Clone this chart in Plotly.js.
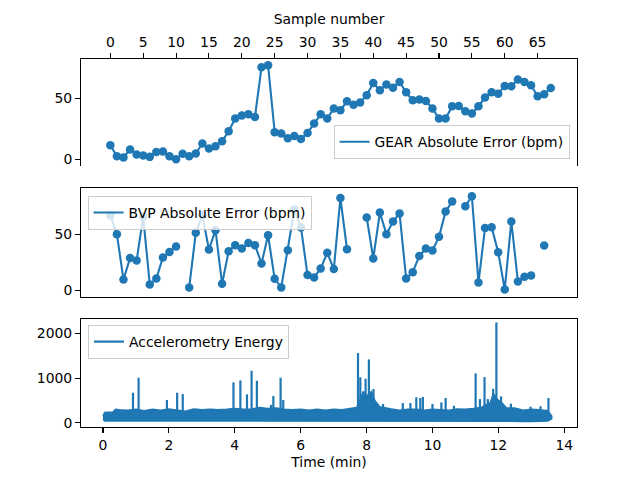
<!DOCTYPE html>
<html>
<head>
<meta charset="utf-8">
<script src="https://cdn.plot.ly/plotly-3.0.1.min.js"></script>
<style>
  html, body { margin: 0; padding: 0; background: #fff; }
  #chart { width: 640px; height: 480px; }
</style>
</head>
<body>
<div id="chart"></div>
<script>
// GEAR error, one value per sample (0..67)
const gearErr = [
  11.5, 2.5, 1.4, 8, 3.9, 3, 1.9, 6, 6.3, 2.5,
  0, 4.4, 2.5, 4.7, 13, 8.8, 10.7, 14.8, 23, 33.5,
  36, 37, 34.9, 75.8, 77.5, 22.3, 21.2, 17.3, 19.2, 16.7,
  21.7, 29.4, 37, 33.5, 41.8, 40.4, 47.8, 45, 46.7, 52.8,
  62.9, 56.9, 61.6, 59, 63.7, 55.2, 48.6, 49.2, 48.1, 41.8,
  33.5, 33.5, 43.7, 43.9, 39.6, 37.7, 43.7, 50.9, 55.2, 54.1,
  60.4, 60.2, 65.7, 63.7, 61, 51.9, 53.6, 58.8
];

// BVP error, null where the sample has no estimate
const bvpErr = [
  67, 50, 9.5, 28.6, 26.5, 65.5, 5, 10.4, 29.2, 34,
  39, null, 2.4, 51.2, 67, 36.3, 53.6, 5.7, 34.8, 40.2,
  37.2, 42, 40.2, 23.8, 49, 10.1, 2.4, 35.7, 72, 56,
  13.4, 11.3, 19.3, 33.3, 18.8, 82.3, 36.6, null, null, 64.9,
  28.3, 69.3, 50, 61.3, 68.5, 10.4, 16, 30.4, 37.2, 35.4,
  47.6, 70.2, 79.2, null, 75, 83.9, 6.8, 55.4, 56.2, 33.9,
  0.6, 61.3, 7.7, 11.9, 13.1, null, 39.9, null
];

const sampleNo = gearErr.map((_, i) => i);
const sampleTicks = [0, 5, 10, 15, 20, 25, 30, 35, 40, 45, 50, 55, 60, 65];

// accelerometry energy: band envelope (min) and spikes
const bandTime  = [0.00, 0.05, 0.30, 0.38, 0.50, 0.75, 1.00, 1.25, 1.50, 1.75,
                   2.00, 2.25, 2.50, 2.75, 3.00, 3.25, 3.50, 3.75, 4.00, 4.25,
                   4.50, 4.75, 5.00, 5.25, 5.50, 5.75, 6.00, 6.25, 6.50, 6.75,
                   7.00, 7.25, 7.50, 7.70, 7.75, 7.90, 8.00, 8.15, 8.25, 8.40,
                   8.75, 9.00, 9.25, 9.50, 9.75, 10.00, 10.25, 10.50, 10.75, 11.00,
                   11.25, 11.50, 11.75, 11.85, 12.00, 12.10, 12.25, 12.50, 12.75, 13.00,
                   13.25, 13.50, 13.62];
const bandUpper = [150, 230, 240, 300, 290, 280, 300, 270, 300, 280,
                   310, 290, 260, 310, 290, 300, 290, 300, 320, 300,
                   310, 340, 320, 330, 300, 290, 300, 280, 300, 280,
                   300, 290, 320, 340, 420, 700, 600, 700, 500, 360,
                   310, 280, 300, 300, 280, 300, 290, 280, 310, 300,
                   320, 350, 450, 650, 500, 450, 330, 330, 280, 300,
                   290, 270, 150];
const bandLower = [90, 40, 35, 30, 30, 30, 30, 30, 30, 30,
                   30, 30, 30, 30, 30, 30, 30, 30, 30, 30,
                   30, 30, 30, 30, 30, 30, 30, 30, 30, 30,
                   30, 30, 30, 30, 30, 30, 30, 30, 30, 30,
                   30, 30, 30, 30, 30, 30, 30, 30, 30, 30,
                   30, 30, 30, 30, 30, 30, 30, 30, 30, 30,
                   30, 40, 90];

const spikeTime = [0.91, 1.08, 1.94, 2.25, 2.42, 3.96, 4.17, 4.37, 4.51, 4.67,
                   5.10, 5.17, 5.39, 5.47, 7.74, 7.81, 7.97, 8.07, 8.21, 8.50,
                   9.10, 9.33, 9.51, 9.63, 9.71, 10.00, 10.27, 10.40, 10.65, 11.31,
                   11.44, 11.58, 11.68, 11.84, 11.94, 12.08, 12.38, 12.98, 13.28, 13.52];
const spikePeak = [673, 1009, 509, 673, 643, 905, 950, 636, 1166, 942,
                   400, 599, 1009, 509, 1563, 1018, 987, 1421, 756, 420,
                   442, 442, 570, 555, 577, 420, 457, 554, 380, 1107,
                   531, 1025, 531, 762, 2251, 592, 426, 360, 370, 554];

const C0 = "#1f77b4";
const FONT = { family: "DejaVu Sans, sans-serif", size: 13.9, color: "#000" };

// polygon for the dense band
const bandX = bandTime.concat(bandTime.slice().reverse());
const bandY = bandUpper.concat(bandLower.slice().reverse());

// spikes as separate vertical strokes
const spX = [], spY = [];
spikeTime.forEach((t, i) => {
  spX.push(t, t, null);
  spY.push(250, spikePeak[i], null);
});

const traces = [
  { x: sampleNo, y: gearErr, xaxis: "x4", yaxis: "y", type: "scatter", mode: "lines",
    name: "GEAR Absolute Error (bpm)", line: { color: C0, width: 2.1 }, legend: "legend" },
  { x: sampleNo, y: gearErr, xaxis: "x4", yaxis: "y", type: "scatter", mode: "markers",
    marker: { color: C0, size: 8.5 }, showlegend: false, hoverinfo: "skip" },

  { x: sampleNo, y: bvpErr, xaxis: "x5", yaxis: "y2", type: "scatter", mode: "lines",
    connectgaps: false, name: "BVP Absolute Error (bpm)", line: { color: C0, width: 2.1 },
    legend: "legend2" },
  { x: sampleNo, y: bvpErr, xaxis: "x5", yaxis: "y2", type: "scatter", mode: "markers",
    marker: { color: C0, size: 8.5 }, showlegend: false, hoverinfo: "skip" },

  { x: bandX, y: bandY, xaxis: "x3", yaxis: "y3", type: "scatter", mode: "lines",
    fill: "toself", fillcolor: C0, line: { color: C0, width: 1.5 }, showlegend: false },
  { x: spX, y: spY, xaxis: "x3", yaxis: "y3", type: "scatter", mode: "lines",
    name: "Accelerometry Energy", line: { color: C0, width: 2.2 }, legend: "legend3" }
];

const timeRange = [-0.668, 14.387];
const sampleRange = [-4.46, 70.99];

const axBase = {
  showgrid: false, zeroline: false, showline: true, linecolor: "#000", linewidth: 1.1,
  ticks: "outside", ticklen: 4.9, tickwidth: 1.1, tickcolor: "#000", tickfont: FONT
};

const legBase = {
  bgcolor: "rgba(255,255,255,0.8)", bordercolor: "#cccccc", borderwidth: 1,
  font: FONT, xref: "paper", yref: "paper"
};

const layout = {
  width: 640, height: 480,
  margin: { l: 81, r: 63, t: 59, b: 53 },
  paper_bgcolor: "#fff", plot_bgcolor: "#fff",
  font: FONT,
  // top panel
  xaxis: Object.assign({}, axBase, { domain: [0, 1], anchor: "y", range: timeRange,
    dtick: 2, tick0: 0, showticklabels: false, mirror: false }),
  xaxis4: Object.assign({}, axBase, { overlaying: "x", side: "top", anchor: "y",
    range: sampleRange, tickvals: sampleTicks,
    title: { text: "Sample number", font: FONT, standoff: 6 } }),
  yaxis: Object.assign({}, axBase, { domain: [0.7087, 1], anchor: "x", range: [-5.8, 82.7],
    tickvals: [0, 50], mirror: true }),
  // middle panel
  xaxis2: Object.assign({}, axBase, { domain: [0, 1], anchor: "y2", range: timeRange,
    dtick: 2, tick0: 0, showticklabels: false, mirror: true }),
  xaxis5: { overlaying: "x2", anchor: "y2", range: sampleRange,
    showline: true, mirror: true, linecolor: "#000", linewidth: 1.1,
    ticks: "", showticklabels: false, showgrid: false, zeroline: false },
  yaxis2: Object.assign({}, axBase, { domain: [0.3522, 0.6481], anchor: "x2", range: [-6.5, 90.8],
    tickvals: [0, 50], mirror: true }),
  // bottom panel
  xaxis3: Object.assign({}, axBase, { domain: [0, 1], anchor: "y3", range: timeRange,
    dtick: 2, tick0: 0, mirror: true,
    title: { text: "Time (min)", font: FONT, standoff: 5 } }),
  yaxis3: Object.assign({}, axBase, { domain: [0, 0.2932], anchor: "x3", range: [-96, 2325],
    tickvals: [0, 1000, 2000], mirror: true }),
  legend: Object.assign({}, legBase, { x: 0.985, y: 0.7277, xanchor: "right", yanchor: "bottom" }),
  legend2: Object.assign({}, legBase, { x: 0.0133, y: 0.628, xanchor: "left", yanchor: "top" }),
  legend3: Object.assign({}, legBase, { x: 0.0141, y: 0.277, xanchor: "left", yanchor: "top" }),
  showlegend: true
};

Plotly.newPlot("chart", traces, layout, { staticPlot: true, displayModeBar: false });
</script>
</body>
</html>
